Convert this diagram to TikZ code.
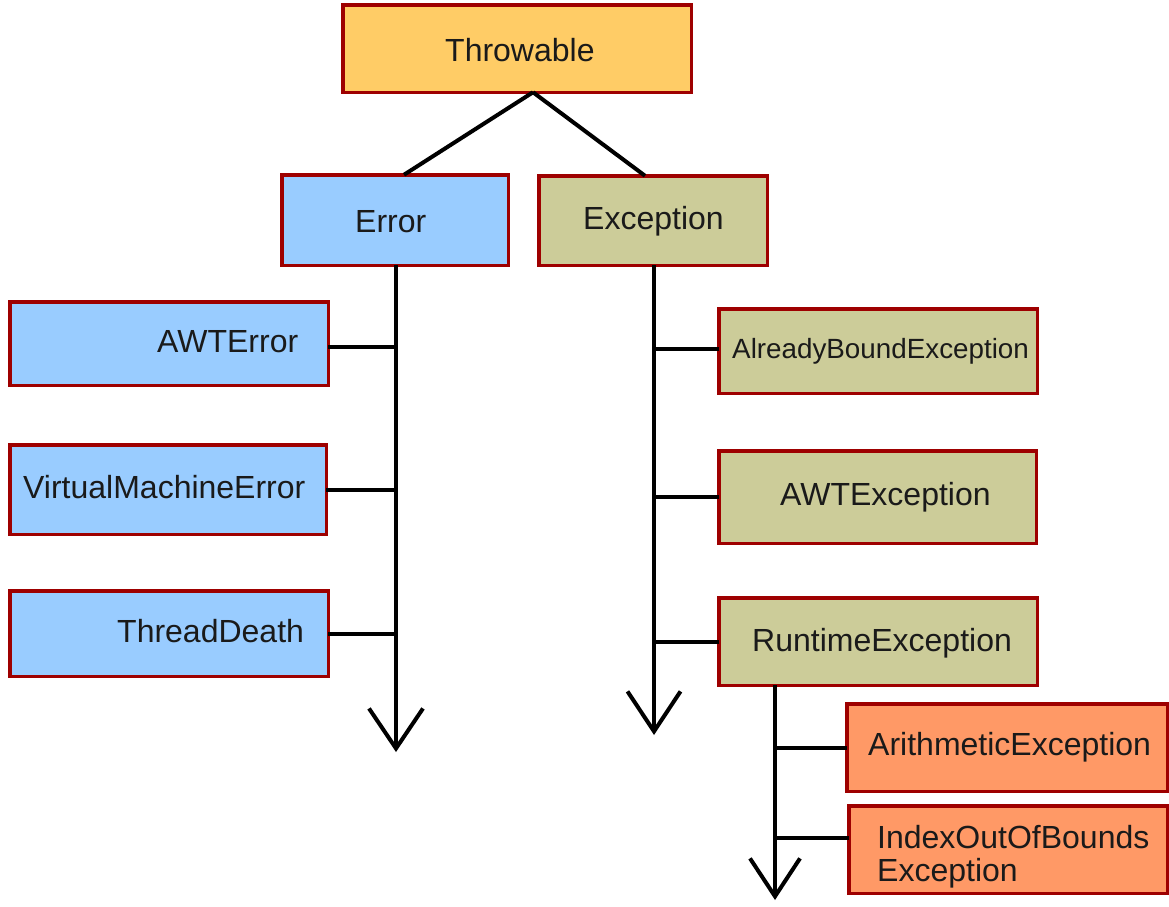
\documentclass[tikz,border=0pt]{standalone}
\usepackage{fontspec}
\setmainfont{Liberation Sans}
\usetikzlibrary{arrows.meta}
\definecolor{bordercol}{HTML}{9E0000}
\definecolor{throwcol}{HTML}{FFCC66}
\definecolor{errcol}{HTML}{99CCFF}
\definecolor{exccol}{HTML}{CCCC99}
\definecolor{rtcol}{HTML}{FF9966}
\definecolor{txtcol}{HTML}{1A1A1A}
\begin{document}
\begin{tikzpicture}[x=1pt,y=-1pt,
  box/.style={draw=bordercol, line width=3.5pt, rectangle, inner sep=0pt, outer sep=0pt},
  lbl/.style={anchor=base west, inner sep=0pt, text=txtcol, font=\fontsize{32}{33}\selectfont},
  lblsmall/.style={anchor=base west, inner sep=0pt, text=txtcol, font=\fontsize{27.8}{30}\selectfont},
  conn/.style={line width=4pt, black},
  arr/.style={conn, -{Straight Barb[length=40pt, width=54pt]}}
]
\useasboundingbox (0,0) rectangle (1169,906);

% boxes
\node[box, fill=throwcol, minimum width=348.5pt, minimum height=87.5pt] (throw) at (517,48.5) {};
\node[box, fill=errcol, minimum width=226.5pt, minimum height=90.5pt] (error) at (395,220) {};
\node[box, fill=exccol, minimum width=228.5pt, minimum height=89.5pt] (exc) at (653,220.5) {};
\node[box, fill=errcol, minimum width=318.5pt, minimum height=83.5pt] (awterr) at (169,343.5) {};
\node[box, fill=errcol, minimum width=316.5pt, minimum height=89.5pt] (vm) at (168,489.5) {};
\node[box, fill=errcol, minimum width=318.5pt, minimum height=85.5pt] (td) at (169,633.5) {};
\node[box, fill=exccol, minimum width=318.5pt, minimum height=84.5pt] (ab) at (878,351) {};
\node[box, fill=exccol, minimum width=317.5pt, minimum height=92.5pt] (awtexc) at (877.5,497) {};
\node[box, fill=exccol, minimum width=318.5pt, minimum height=87.5pt] (rt) at (878,641.5) {};
\node[box, fill=rtcol, minimum width=320.5pt, minimum height=87.5pt] (ar) at (1007,747.5) {};
\node[box, fill=rtcol, minimum width=318.5pt, minimum height=87.5pt] (ioob) at (1008,849.5) {};

% labels
\node[lbl] (tthrow) at (445,61) {Throwable};
\node[lbl] (terror) at (355,232) {Error};
\node[lbl] (texc) at (583,229) {Exception};
\node[lbl] (tawterr) at (157,352) {AWTError};
\node[lbl] (tvm) at (23,498) {VirtualMachineError};
\node[lbl] (ttd) at (117,642) {ThreadDeath};
\node[lblsmall] (tab) at (732,358) {AlreadyBoundException};
\node[lbl] (tawtexc) at (780,505) {AWTException};
\node[lbl] (trt) at (752,651) {RuntimeException};
\node[lbl] (tar) at (868,755) {ArithmeticException};
\node[lbl, align=left, anchor=north west, font=\fontsize{32}{33}\selectfont] (tioob) at (877,825) {IndexOutOfBounds\\Exception};

% connectors from Throwable
\draw[conn] ([xshift=16pt]throw.south) -- ([xshift=9pt]error.north);
\draw[conn] ([xshift=16pt]throw.south) -- ([xshift=-8pt]exc.north);

% Error trunk
\coordinate (eEnd) at (396,752);
\draw[arr] (error.south -| eEnd) -- (eEnd);
\draw[conn] ([yshift=-3pt]awterr.east) -- ([yshift=-3pt]awterr.east -| eEnd);
\draw[conn] (vm.east) -- (vm.east -| eEnd);
\draw[conn] (td.east) -- (td.east -| eEnd);

% Exception trunk
\coordinate (xEnd) at (654,735);
\draw[arr, -{Straight Barb[length=40pt, width=53pt]}] (exc.south -| xEnd) -- (xEnd);
\draw[conn] ([yshift=2pt]ab.west -| xEnd) -- ([yshift=2pt]ab.west);
\draw[conn] (awtexc.west -| xEnd) -- (awtexc.west);
\draw[conn] (rt.west -| xEnd) -- (rt.west);

% Runtime trunk
\coordinate (rEnd) at (775,900);
\draw[arr, -{Straight Barb[length=38pt, width=50pt]}] (rt.south -| rEnd) -- (rEnd);
\draw[conn] (ar.west -| rEnd) -- (ar.west);
\draw[conn] ([yshift=11.5pt]ioob.west -| rEnd) -- ([yshift=11.5pt]ioob.west);
\end{tikzpicture}
\end{document}
